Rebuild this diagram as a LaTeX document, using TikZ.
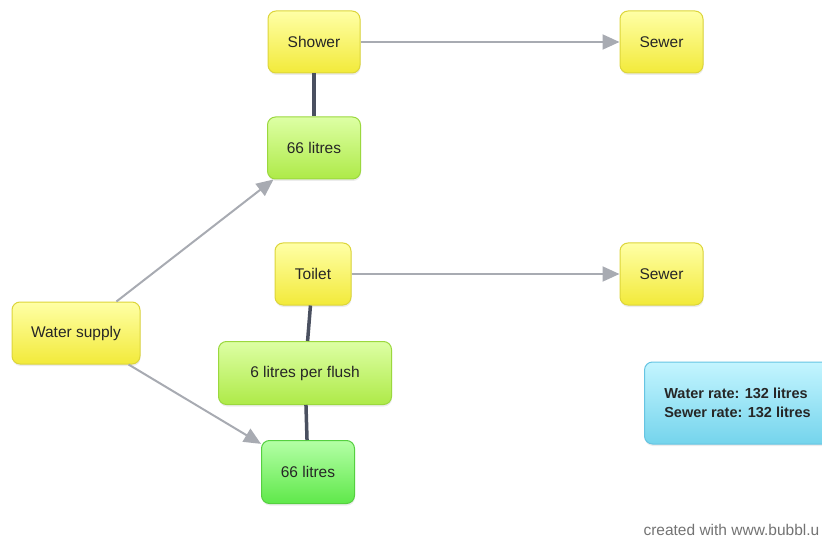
\documentclass[tikz,border=0pt]{standalone}
\usepackage{fontspec}
\setmainfont{Liberation Sans}
\usetikzlibrary{positioning, arrows.meta, shadows}

\definecolor{yellowTop}{HTML}{FFFFA6}
\definecolor{yellowBot}{HTML}{F2EA3A}
\definecolor{yellowEdge}{HTML}{DCD53A}
\definecolor{greenTop}{HTML}{DDFFA4}
\definecolor{greenBot}{HTML}{AEEA48}
\definecolor{greenEdge}{HTML}{9BD83E}
\definecolor{limeTop}{HTML}{B4FFA6}
\definecolor{limeBot}{HTML}{5FE84A}
\definecolor{limeEdge}{HTML}{55D040}
\definecolor{blueTop}{HTML}{C4F5FF}
\definecolor{blueBot}{HTML}{74D4EC}
\definecolor{blueEdge}{HTML}{66C4E2}
\definecolor{arrowGray}{HTML}{A8ABB2}
\definecolor{linkDark}{HTML}{4A5060}

\begin{document}
\begin{tikzpicture}[
    x=1pt, y=-1pt,
    bubble/.style={
        rectangle,
        rounded corners=8pt,
        minimum height=62pt,
        line width=1pt,
        align=center,
        font=\fontsize{15.5}{18}\selectfont,
        text=black!85,
        drop shadow={opacity=0.15, shadow xshift=0.5pt, shadow yshift=-2pt}
    },
    yellowbubble/.style={bubble, draw=yellowEdge, top color=yellowTop, bottom color=yellowBot},
    greenbubble/.style={bubble, draw=greenEdge, top color=greenTop, bottom color=greenBot},
    limebubble/.style={bubble, draw=limeEdge, top color=limeTop, bottom color=limeBot},
    bluebubble/.style={bubble, draw=blueEdge, top color=blueTop, bottom color=blueBot},
    flow/.style={-{Triangle[length=17pt,width=15pt]}, line width=2pt, arrowGray},
    link/.style={line width=3.5pt, linkDark}
]
    \useasboundingbox (0,0) rectangle (822,540);

    % Shower branch
    \node[yellowbubble, minimum width=92pt] (shower) at (314,42) {Shower};
    \node[yellowbubble, minimum width=83pt, right=259pt of shower] (sewerA) {Sewer};
    \node[greenbubble, minimum width=93pt] (showerlitres) at (314,148) {66 litres};

    % Toilet branch
    \node[yellowbubble, minimum width=76pt] (toilet) at (313,274) {Toilet};
    \node[yellowbubble, minimum width=83pt, right=268pt of toilet] (sewerB) {Sewer};
    \node[greenbubble, minimum width=173pt, minimum height=63pt] (flush) at (305,373) {6 litres per flush};
    \node[limebubble, minimum width=93pt, minimum height=63pt] (toiletlitres) at (308,472) {66 litres};

    % Source
    \node[yellowbubble, minimum width=128pt] (supply) at (76,333) {Water supply};

    % Totals
    \node[bluebubble, minimum width=186pt, minimum height=82pt, anchor=west,
          align=left, font=\fontsize{14.5}{19}\selectfont\bfseries] (rates) at (644,403)
          {Water rate: 132 litres\\Sewer rate: 132 litres};

    \node[anchor=west, text=black!55, font=\fontsize{15.5}{18}\selectfont] (credit) at (640,530) {created with www.bubbl.u};

    % Connectors
    \draw[flow] (shower) -- (sewerA);
    \draw[flow] (toilet) -- (sewerB);
    \draw[flow] (supply) -- (showerlitres);
    \draw[flow] (supply) -- (toiletlitres);
    \draw[link] (shower) -- (showerlitres);
    \draw[link] (toilet) -- (flush);
    \draw[link] (flush) -- (toiletlitres);
\end{tikzpicture}
\end{document}
